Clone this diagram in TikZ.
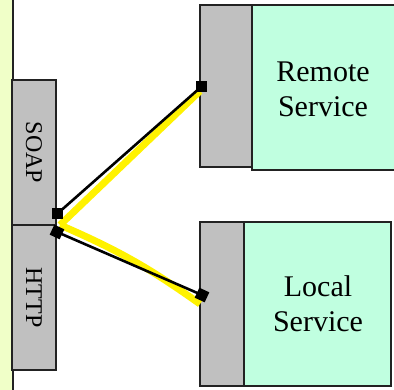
\documentclass[tikz,border=0pt]{standalone}
\usepackage{fontspec}
\setmainfont{Liberation Serif}
\definecolor{stripfill}{HTML}{F0FFC8}
\definecolor{svcfill}{HTML}{C0FFE0}
\definecolor{portfill}{HTML}{C0C0C0}
\definecolor{edge}{HTML}{222222}
\tikzset{
  box/.style={draw=edge, line width=1.2pt, anchor=north west, inner sep=0pt, outer sep=0pt},
  graybox/.style={box, fill=portfill},
  svcbox/.style={box, fill=svcfill},
  svctext/.style={align=center, font=\fontsize{30}{35}\selectfont},
  proto/.style={rotate=-90, font=\fontsize{24}{28}\selectfont},
  pin/.style={fill=black, minimum size=11pt, inner sep=0pt, outer sep=0pt},
  glow/.style={draw=yellow, line width=7pt},
  wire/.style={draw=black, line width=2.6pt},
}
\begin{document}
\begin{tikzpicture}[x=1pt, y=-1pt]
  \useasboundingbox (0,0) rectangle (394,390);
  \clip (0,0) rectangle (394,390);

  % host strip on the left
  \fill[stripfill] (-5,-5) rectangle (13,395);
  \draw[edge, line width=1.2pt] (13,-5) -- (13,395);

  % protocol stack
  \node[graybox, minimum width=44pt, minimum height=145pt] (soap) at (12,80) {};
  \node[graybox, minimum width=44pt, minimum height=145pt] (http) at (12,225) {};
  \node[proto] (soaplbl) at (soap.center) {SOAP};
  \node[proto] (httplbl) at (http.center) {HTTP};

  % remote service
  \node[svcbox, minimum width=160pt, minimum height=165pt] (remsvc) at (252,5) {};
  \node[graybox, minimum width=52pt, minimum height=162pt] (remport) at (200,5) {};
  \node[svctext] (remlbl) at (323,89) {Remote\\Service};

  % local service
  \node[svcbox, minimum width=147pt, minimum height=164pt] (locsvc) at (244,222) {};
  \node[graybox, minimum width=44pt, minimum height=164pt] (locport) at (200,222) {};
  \node[svctext] (loclbl) at (318,304) {Local\\Service};

  % connection points
  \coordinate (j) at (60,225);
  \coordinate (remglow) at (200,91);
  \coordinate (locglow) at (200,304);
  \coordinate (soapend) at (57,214);
  \coordinate (remend) at (201,87);
  \coordinate (httpend) at (57,232);
  \coordinate (locend) at (202,295);

  % highlighted paths
  \draw[glow] (j) -- (remglow);
  \draw[glow] (j) to[bend left=6] (locglow);

  % wires
  \draw[wire] (soapend) -- (remend);
  \draw[wire] (httpend) -- (locend);

  % pins on top of the wires
  \node[pin] (soappin) at (soapend) {};
  \node[pin] (rempin) at (remend) {};
  \node[pin, rotate=-25] (httppin) at (httpend) {};
  \node[pin, rotate=-25] (locpin) at (locend) {};
\end{tikzpicture}
\end{document}
